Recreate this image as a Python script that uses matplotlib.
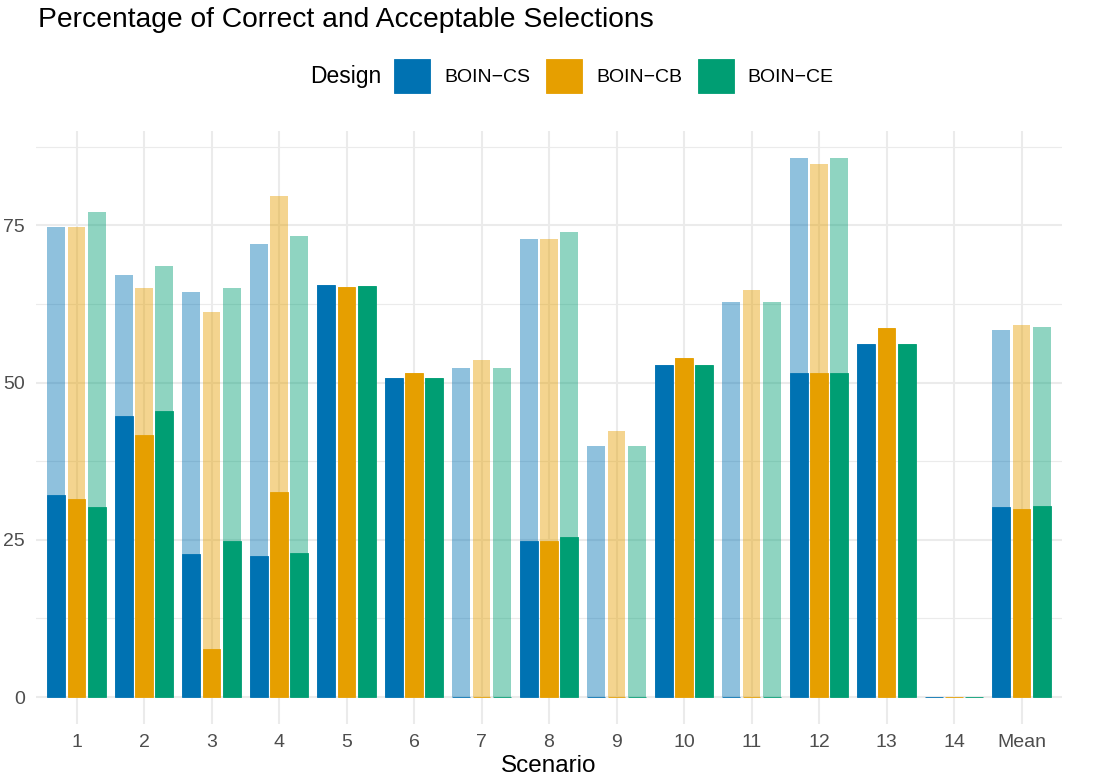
import matplotlib.pyplot as plt
import numpy as np

plt.rcParams["font.family"] = ["Liberation Sans", "DejaVu Sans"]

scenarios = ["1", "2", "3", "4", "5", "6", "7", "8", "9", "10", "11", "12", "13", "14", "Mean"]
designs = ["BOIN\u2212CS", "BOIN\u2212CB", "BOIN\u2212CE"]
colors = ["#0072B2", "#E69F00", "#009E73"]

# percentage of correct selections (solid bars)
correct_cs = [32.1, 44.6, 22.7, 22.4, 65.5, 50.7, 0, 24.8, 0, 52.8, 0, 51.5, 56.1, 0, 30.2]
correct_cb = [31.5, 41.7, 7.6, 32.6, 65.2, 51.5, 0, 24.8, 0, 53.9, 0, 51.5, 58.7, 0, 29.9]
correct_ce = [30.2, 45.5, 24.8, 22.9, 65.4, 50.7, 0, 25.4, 0, 52.8, 0, 51.5, 56.1, 0, 30.4]

# percentage of acceptable selections (light bars)
accept_cs = [74.7, 67.1, 64.4, 72.0, 65.5, 50.7, 52.3, 72.8, 39.9, 52.8, 62.8, 85.7, 56.1, 0, 58.4]
accept_cb = [74.7, 65.0, 61.2, 79.7, 65.2, 51.5, 53.6, 72.8, 42.3, 53.9, 64.7, 84.8, 58.7, 0, 59.2]
accept_ce = [77.1, 68.5, 65.0, 73.3, 65.4, 50.7, 52.3, 74.0, 39.9, 52.8, 62.8, 85.7, 56.1, 0, 58.8]

correct = [correct_cs, correct_cb, correct_ce]
accept = [accept_cs, accept_cb, accept_ce]

fig = plt.figure(figsize=(11.05, 7.83), dpi=100)
ax = fig.add_axes([36 / 1105, 59 / 783, 1026 / 1105, 593 / 783])

x = np.arange(1, len(scenarios) + 1)
dodge = 0.3
bar_w = 0.262

for i in range(3):
    xs = x + (i - 1) * dodge
    ax.bar(xs, accept[i], width=bar_w, color=colors[i], alpha=0.44, linewidth=0, zorder=2)
    ax.bar(xs, correct[i], width=bar_w, color=colors[i], edgecolor=colors[i],
           linewidth=0.6, zorder=3, label=designs[i])

ymax = max(max(a) for a in accept)
ax.set_ylim(-0.05 * ymax, 1.05 * ymax)
ax.set_xlim(0.4, len(scenarios) + 0.6)
ax.set_xticks(x)
ax.set_xticklabels(scenarios)
ax.set_yticks([0, 25, 50, 75])
ax.set_yticks([12.5, 37.5, 62.5, 87.5], minor=True)

ax.grid(axis="y", which="major", color="#EBEBEB", linewidth=1.5, zorder=0)
ax.grid(axis="y", which="minor", color="#EBEBEB", linewidth=0.8, zorder=0)
ax.grid(axis="x", which="major", color="#EBEBEB", linewidth=1.5, zorder=0)
ax.set_axisbelow(True)
for s in ax.spines.values():
    s.set_visible(False)
ax.tick_params(axis="both", which="both", length=0, labelsize=14, labelcolor="#4D4D4D")
ax.tick_params(axis="x", pad=7)
ax.tick_params(axis="y", pad=8)

ax.set_xlabel("Scenario", fontsize=17.5, color="black", labelpad=3)

fig.text(38 / 1105, 1 - 27 / 783, "Percentage of Correct and Acceptable Selections",
         fontsize=20.3, ha="left", va="baseline")

fig.text(381 / 1105, 1 - 76 / 783, "Design", fontsize=16.5, ha="right", va="center")
fig.legend(loc="center left", bbox_to_anchor=(394 / 1105, 1 - 76 / 783), ncol=3,
           frameon=False, fontsize=14, handlelength=1.85, handleheight=2.39,
           handletextpad=0.72, columnspacing=0.82, borderpad=0, borderaxespad=0)

fig.savefig("out.png", dpi=100)
